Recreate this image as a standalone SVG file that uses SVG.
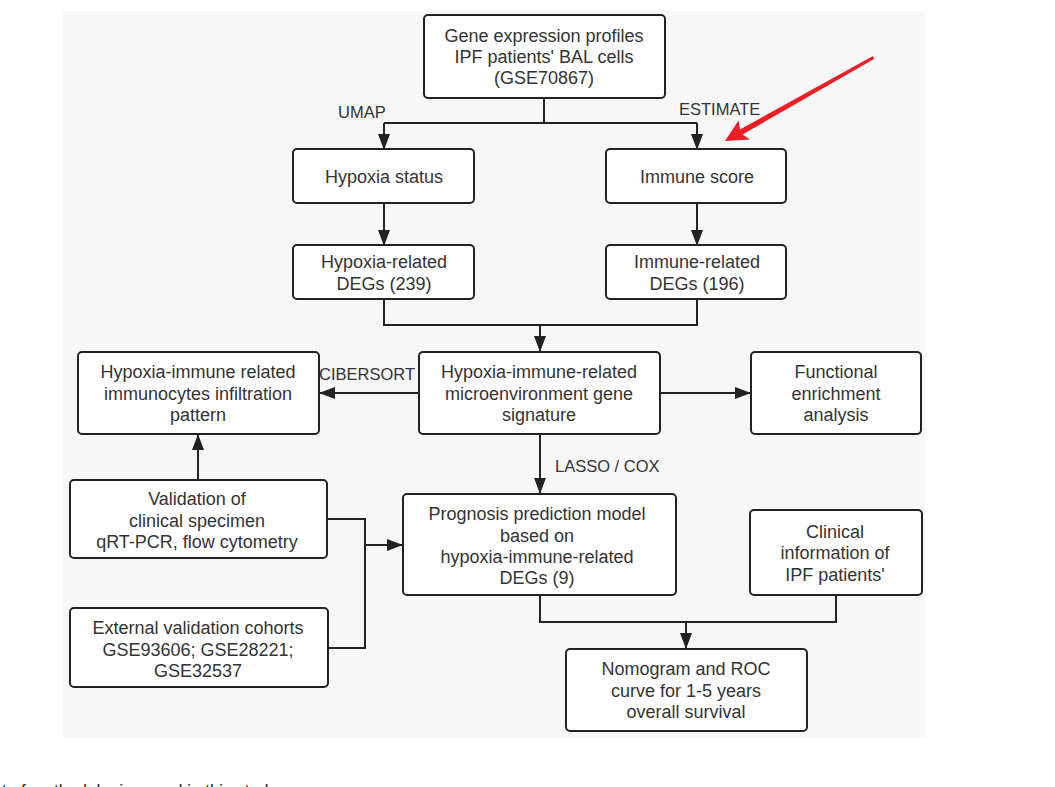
<svg xmlns="http://www.w3.org/2000/svg" width="1055" height="787" viewBox="0 0 1055 787">
<defs>
<marker id="ah" markerWidth="16" markerHeight="12" viewBox="0 0 16 12" refX="15" refY="6" orient="auto" markerUnits="userSpaceOnUse">
<path d="M0,0 L16,6 L0,12 Z" fill="#222"/>
</marker>
<style>
.box{fill:#fff;stroke:#222;stroke-width:2}
.t{font-family:"Liberation Sans",Arial,sans-serif;font-size:18px;fill:#333;text-anchor:middle}
.l{font-family:"Liberation Sans",Arial,sans-serif;font-size:16.5px;fill:#333}
.c{fill:none;stroke:#222;stroke-width:2}
.a{fill:none;stroke:#222;stroke-width:2;marker-end:url(#ah)}
</style>
</defs>
<rect x="0" y="0" width="1055" height="787" fill="#fff"/>
<rect x="63" y="11" width="862" height="726" fill="#f7f7f7"/>

<g id="connectors">
<path class="c" d="M544,98 V123 M384,123 H697"/>
<path class="a" d="M384,123 V149"/>
<path class="a" d="M697,123 V149"/>
<path class="a" d="M384,203 V245"/>
<path class="a" d="M697,203 V245"/>
<path class="c" d="M384,299 V325 H697 V299"/>
<path class="a" d="M540,325 V351"/>
<path class="a" d="M419,393 H320"/>
<path class="a" d="M660,393 H750"/>
<path class="a" d="M540,434 V493"/>
<path class="a" d="M198,480 V435"/>
<path class="c" d="M327,519 H365 V648 H328"/>
<path class="a" d="M365,545 H402"/>
<path class="c" d="M540,595 V622 H836 V595"/>
<path class="a" d="M686,622 V648"/>
<text class="l" x="338" y="118">UMAP</text>
<text class="l" x="679" y="115">ESTIMATE</text>
<text class="l" x="415" y="380" font-size="15.5" text-anchor="end">CIBERSORT</text>
<text class="l" x="555" y="472">LASSO / COX</text>
</g>

<g id="n_gene">
<rect class="box" x="424" y="15" width="241" height="83" rx="4"/>
<text class="t" x="544" y="42">Gene expression profiles</text>
<text class="t" x="544" y="63">IPF patients' BAL cells</text>
<text class="t" x="544" y="84">(GSE70867)</text>
</g>
<g id="n_hypoxia_status">
<rect class="box" x="293" y="149" width="181" height="54" rx="4"/>
<text class="t" x="384" y="183">Hypoxia status</text>
</g>
<g id="n_immune_score">
<rect class="box" x="606" y="149" width="180" height="54" rx="4"/>
<text class="t" x="697" y="183">Immune score</text>
</g>
<g id="n_hypoxia_degs">
<rect class="box" x="293" y="245" width="181" height="54" rx="4"/>
<text class="t" x="384" y="268">Hypoxia-related</text>
<text class="t" x="384" y="290">DEGs (239)</text>
</g>
<g id="n_immune_degs">
<rect class="box" x="606" y="245" width="180" height="54" rx="4"/>
<text class="t" x="697" y="268">Immune-related</text>
<text class="t" x="697" y="290">DEGs (196)</text>
</g>
<g id="n_signature">
<rect class="box" x="419" y="352" width="241" height="82" rx="4"/>
<text class="t" x="539" y="378">Hypoxia-immune-related</text>
<text class="t" x="539" y="400">microenvironment gene</text>
<text class="t" x="539" y="421">signature</text>
</g>
<g id="n_infiltration">
<rect class="box" x="78" y="352" width="241" height="82" rx="4"/>
<text class="t" x="198" y="378">Hypoxia-immune related</text>
<text class="t" x="198" y="400">immunocytes infiltration</text>
<text class="t" x="198" y="421">pattern</text>
</g>
<g id="n_functional">
<rect class="box" x="751" y="352" width="170" height="82" rx="4"/>
<text class="t" x="836" y="378">Functional</text>
<text class="t" x="836" y="400">enrichment</text>
<text class="t" x="836" y="421">analysis</text>
</g>
<g id="n_validation">
<rect class="box" x="70" y="480" width="257" height="78" rx="4"/>
<text class="t" x="197" y="505">Validation of</text>
<text class="t" x="197" y="527">clinical specimen</text>
<text class="t" x="197" y="548">qRT-PCR, flow cytometry</text>
</g>
<g id="n_prognosis">
<rect class="box" x="403" y="494" width="273" height="101" rx="4"/>
<text class="t" x="537" y="520">Prognosis prediction model</text>
<text class="t" x="537" y="542">based on</text>
<text class="t" x="537" y="563">hypoxia-immune-related</text>
<text class="t" x="537" y="584">DEGs (9)</text>
</g>
<g id="n_clinical">
<rect class="box" x="750" y="510" width="172" height="85" rx="4"/>
<text class="t" x="835" y="538">Clinical</text>
<text class="t" x="835" y="559">information of</text>
<text class="t" x="835" y="581">IPF patients'</text>
</g>
<g id="n_external">
<rect class="box" x="70" y="608" width="258" height="79" rx="4"/>
<text class="t" x="198" y="634">External validation cohorts</text>
<text class="t" x="198" y="656">GSE93606; GSE28221;</text>
<text class="t" x="198" y="677">GSE32537</text>
</g>
<g id="n_nomogram">
<rect class="box" x="566" y="649" width="241" height="82" rx="4"/>
<text class="t" x="686" y="675">Nomogram and ROC</text>
<text class="t" x="686" y="697">curve for 1-5 years</text>
<text class="t" x="686" y="718">overall survival</text>
</g>

<g id="red_arrow">
<polygon points="725,141 738.5,120.5 740,129.5 873,56 874,59 742.5,134.5 750,139.5" fill="#ee1c25"/>
</g>

<text x="2" y="796" style="font-family:'Liberation Sans',Arial,sans-serif;font-size:17px;fill:#222">t of methodologies used in this study</text>
</svg>
